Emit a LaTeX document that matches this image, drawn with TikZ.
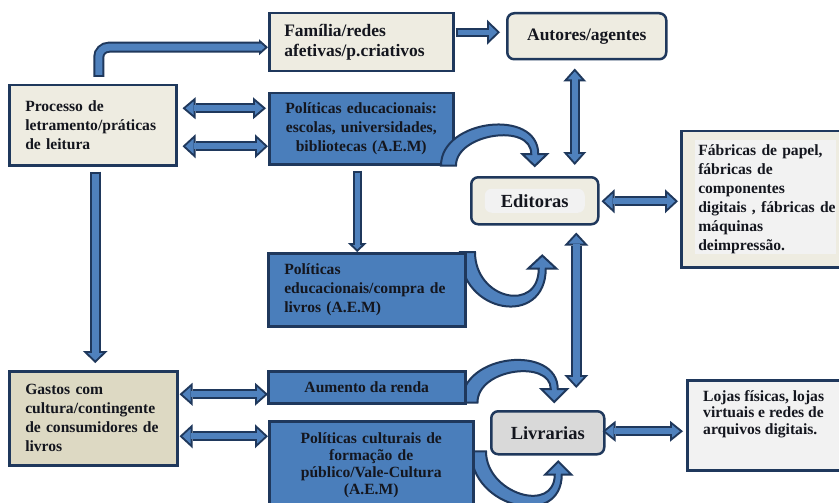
\documentclass[tikz,border=0pt]{standalone}
\usepackage{fontspec}
\setmainfont{Liberation Serif}
\usetikzlibrary{arrows.meta,calc}
\pgfdeclarelayer{back}
\pgfdeclarelayer{bg}
\pgfsetlayers{back,bg,main}
\definecolor{bdark}{RGB}{31,56,92}
\definecolor{bblue}{RGB}{74,126,187}
\definecolor{ablue}{RGB}{79,129,189}
\definecolor{beige}{RGB}{238,236,225}
\definecolor{tanbox}{RGB}{221,217,195}
\definecolor{lgray}{RGB}{242,242,242}
\definecolor{mgray}{RGB}{217,217,217}
\definecolor{txt}{RGB}{20,22,30}
\newcommand\outl{2}
% single-headed block arrow: #1 head width, #2 head length, #3 shaft width, #4 path
\newcommand\SArrow[4]{%
  \pgfmathsetmacro\aHW{#1/2}%
  \pgfmathsetmacro\aAng{atan(\aHW/#2)}%
  \pgfmathsetmacro\aD{\outl/sin(\aAng)}%
  \pgfmathsetmacro\aIL{#2-\outl-\aD}%
  \pgfmathsetmacro\aIW{2*\aIL*tan(\aAng)}%
  \pgfmathsetmacro\aIS{#3-2*\outl}%
  \draw[line width=#3pt, draw=bdark, -{Triangle[width=#1pt,length=#2pt,line width=0pt]}] #4;
  \draw[line width=\aIS pt, draw=ablue, shorten >=\aD pt, shorten <=\outl pt, -{Triangle[width=\aIW pt,length=\aIL pt,line width=0pt]}] #4;
}
% double-headed block arrow
\newcommand\DArrow[4]{%
  \pgfmathsetmacro\aHW{#1/2}%
  \pgfmathsetmacro\aAng{atan(\aHW/#2)}%
  \pgfmathsetmacro\aD{\outl/sin(\aAng)}%
  \pgfmathsetmacro\aIL{#2-\outl-\aD}%
  \pgfmathsetmacro\aIW{2*\aIL*tan(\aAng)}%
  \pgfmathsetmacro\aIS{#3-2*\outl}%
  \draw[line width=#3pt, draw=bdark, {Triangle[width=#1pt,length=#2pt,line width=0pt]}-{Triangle[width=#1pt,length=#2pt,line width=0pt]}] #4;
  \draw[line width=\aIS pt, draw=ablue, shorten >=\aD pt, shorten <=\aD pt, {Triangle[width=\aIW pt,length=\aIL pt,line width=0pt]}-{Triangle[width=\aIW pt,length=\aIL pt,line width=0pt]}] #4;
}
% curved tapering block arrow: #1 start coord, #2 tip coord, #3 sign (-1 arch, +1 dip),
% #4 h1, #5 h2, #6 base width, #7 end width, #8 head width, #9 head length
\newcommand\CArrow[9]{%
  \pgfmathsetmacro\cd{(#6+#7)/3}%
  \pgfmathsetmacro\hb{#6/2}\pgfmathsetmacro\he{#7/2}\pgfmathsetmacro\hw{#8/2}%
  \pgfmathsetmacro\ya{#3*(#4+\cd)}\pgfmathsetmacro\yb{#3*(#5+\cd)}%
  \pgfmathsetmacro\yc{#3*(#5-\cd)}\pgfmathsetmacro\yd{#3*(#4-\cd)}%
  \pgfmathsetmacro\yL{#3*#9}%
  \coordinate (cB) at ($(#2)+(0,\yL)$);
  \filldraw[fill=ablue, draw=bdark, line width=2pt, line join=miter]
    ($(#1)+(-\hb,0)$) .. controls ($(#1)+(-\hb,\ya)$) and ($(cB)+(\he,\yb)$) .. ($(cB)+(\he,0)$)
    -- ($(cB)+(\hw,0)$) -- (#2) -- ($(cB)+(-\hw,0)$) -- ($(cB)+(-\he,0)$)
    .. controls ($(cB)+(-\he,\yc)$) and ($(#1)+(\hb,\yd)$) .. ($(#1)+(\hb,0)$) -- cycle;
}
\tikzset{
  box/.style={draw=bdark, line width=2.5pt, anchor=north west, inner sep=0pt, text=txt,
    font=\bfseries\fontsize{15.6}{19}\selectfont},
  bluebox/.style={box, fill=bblue},
  bigfont/.style={font=\bfseries\fontsize{17.5}{20}\selectfont},
  hugefont/.style={font=\bfseries\fontsize{18.5}{22}\selectfont},
}
\begin{document}
\begin{tikzpicture}[x=1pt,y=-1pt]
\useasboundingbox (0,0) rectangle (839,503);
\begin{pgfonlayer}{back}
\fill[white] (0,0) rectangle (839,503);
\end{pgfonlayer}
% boxes
\node[box, fill=beige, bigfont, minimum width=184pt, minimum height=58pt, text width=154pt, inner xsep=15pt, align=left] (fam) at (268,12) {Família/redes\\afetivas/p.criativos};
\node[box, fill=beige, bigfont, rounded corners=7pt, minimum width=159pt, minimum height=46pt] (aut) at (506,12) {Autores/agentes};
\node[box, fill=beige, minimum width=167pt, minimum height=80pt, text width=135pt, inner xsep=16pt, align=left] (proc) at (8,84) {Processo de\\letramento/práticas\\de leitura};
\node[bluebox, minimum width=184pt, minimum height=71pt, text width=176pt, inner xsep=4pt, align=center] (pe) at (268,92) {Políticas educacionais:\\escolas, universidades,\\bibliotecas (A.E.M)};
\node[box, fill=beige, hugefont, rounded corners=7pt, minimum width=127pt, minimum height=47pt,
  path picture={\fill[lgray] ($(path picture bounding box.center)+(-50,-12)$) rectangle ++(100,24);}] (ed) at (470,176) {Editoras};
\node[box, fill=beige, minimum width=170pt, minimum height=136pt, text width=150pt, inner xsep=17pt, align=left,
  path picture={\fill[lgray] ($(path picture bounding box.north west)+(14,9)$) rectangle ++(141,114);}] (fab) at (680,130) {Fábricas de papel,\\fábricas de\\componentes\\digitais , fábricas de\\máquinas\\deimpressão.};
\node[bluebox, minimum width=197pt, minimum height=73pt, text width=165pt, inner xsep=16pt, align=left] (pc) at (267,252) {Políticas\\educacionais/compra de\\livros (A.E.M)};
\node[box, fill=tanbox, minimum width=168pt, minimum height=94pt, text width=136pt, inner xsep=16pt, align=left] (gas) at (8,370) {Gastos com\\cultura/contingente\\de consumidores de\\livros};
\node[bluebox, minimum width=197pt, minimum height=32pt] (aum) at (267,370) {Aumento da renda};
\node[bluebox, minimum width=204pt, minimum height=88pt, text width=196pt, inner xsep=4pt, align=center,
  font=\bfseries\fontsize{15.6}{17}\selectfont] (pcult) at (268,420) {Políticas culturais de\\formação de\\público/Vale-Cultura\\(A.E.M)};
\node[box, fill=mgray, hugefont, rounded corners=7pt, minimum width=113pt, minimum height=43pt] (liv) at (490,410) {Livrarias};
\node[box, fill=lgray, minimum width=160pt, minimum height=90pt] (loj) at (686,379) {};
\node[anchor=north west, inner sep=0pt, text=txt, align=left, font=\bfseries\fontsize{15.6}{16.8}\selectfont] (lojt) at ($(loj.north west)+(17,11)$) {Lojas físicas, lojas\\virtuais e redes de\\arquivos digitais.};
% straight arrows
\SArrow{16}{9}{11}{[rounded corners=10pt] ($(proc.north)+(6,-7)$) |- ($(fam.west)+(0,5)$)}
\SArrow{25}{13}{9}{($(fam.east)+(1,-10)$) -- ($(aut.west)+(-6,-4)$)}
\DArrow{23}{13}{10}{($(aut.south)+(-12,8)$) -- ($(ed.north)+(40,-11)$)}
\DArrow{22}{13}{10}{($(proc.east)+(5,-17)$) -- ($(pe.west)+(-2,-20.5)$)}
\DArrow{24}{13}{10}{($(proc.east)+(5,21)$) -- ($(pe.west)+(0,17.5)$)}
\SArrow{19}{9}{9}{($(pe.south)+(-4,5)$) -- ($(pc.north)+(-9.5,0)$)}
\DArrow{24}{13}{10}{($(ed.east)+(2,0.5)$) -- ($(fab.west)+(-2,2)$)}
\DArrow{24}{13}{11}{($(ed.south)+(41.5,7)$) -- ($(liv.north)+(28.5,-22)$)}
\SArrow{25}{12}{11}{($(proc.south)+(2.5,5)$) -- ($(gas.north)+(2,-7)$)}
\DArrow{23}{13}{10}{($(gas.east)+(1,-24)$) -- ($(aum.west)+(1,7)$)}
\DArrow{24}{13}{10}{($(gas.east)+(1,18)$) -- ($(pcult.west)+(0,-29)$)}
\DArrow{21}{13}{10}{($(liv.east)+(-3,-1.5)$) -- ($(loj.west)+(-3,6)$)}
% curved arrows
\coordinate (c1s) at ($(pe.south east)+(-6,0)$);
\coordinate (c1t) at ($(ed.north)+(0,-10)$);
\CArrow{c1s}{c1t}{-1}{39}{39}{15}{7}{25}{12}
\begin{pgfonlayer}{bg}
\coordinate (c2s) at ($(pc.north east)+(1,0)$);
\coordinate (c2t) at ($(ed.south)+(7.5,30)$);
\CArrow{c2s}{c2t}{1}{55}{52}{15}{7}{28}{13}
\coordinate (c3s) at ($(aum.south east)+(3,-2)$);
\coordinate (c3t) at ($(liv.north)+(6.5,-8)$);
\CArrow{c3s}{c3t}{-1}{42}{37}{16}{7}{26}{13}
\coordinate (c4s) at ($(pcult.east)+(4,-14)$);
\coordinate (c4t) at ($(liv.south)+(10.5,6)$);
\CArrow{c4s}{c4t}{1}{50}{47}{15}{7}{26}{13}
\end{pgfonlayer}
\end{tikzpicture}
\end{document}
